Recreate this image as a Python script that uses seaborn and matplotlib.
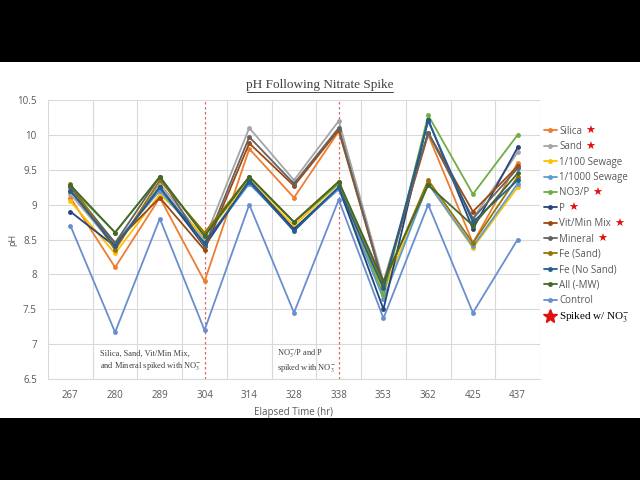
import pandas as pd
import matplotlib
matplotlib.use("Agg")
import matplotlib.pyplot as plt
from matplotlib.lines import Line2D
from matplotlib.patches import Rectangle
import seaborn as sns

# elapsed time points (categorical axis)
hours = ["267", "280", "289", "304", "314", "328", "338", "353", "362", "425", "437"]

silica = [9.10, 8.10, 9.10, 7.90, 9.80, 9.10, 10.05, 7.85, 10.00, 8.45, 9.60]
sand = [9.15, 8.40, 9.30, 8.50, 10.10, 9.35, 10.20, 7.90, 10.03, 8.80, 9.75]
sewage_100 = [9.05, 8.30, 9.15, 8.55, 9.35, 8.70, 9.30, 7.75, 9.30, 8.38, 9.25]
sewage_1000 = [9.20, 8.45, 9.20, 8.45, 9.30, 8.65, 9.22, 7.65, 9.30, 8.40, 9.30]
no3_p = [9.25, 8.60, 9.40, 8.55, 9.40, 8.75, 9.30, 7.70, 10.28, 9.15, 10.00]
p_only = [8.90, 8.40, 9.25, 8.40, 9.35, 8.65, 9.25, 7.50, 10.22, 8.65, 9.82]
vit_min = [9.20, 8.45, 9.10, 8.35, 9.88, 9.27, 10.07, 7.85, 10.03, 8.90, 9.55]
mineral = [9.25, 8.45, 9.40, 8.40, 9.97, 9.30, 10.10, 7.85, 10.03, 8.80, 9.52]
fe_sand = [9.30, 8.35, 9.35, 8.60, 9.40, 8.75, 9.33, 7.85, 9.35, 8.45, 9.40]
fe_nosand = [9.20, 8.40, 9.25, 8.45, 9.33, 8.62, 9.25, 7.80, 10.20, 8.75, 9.35]
all_mw = [9.28, 8.60, 9.40, 8.55, 9.40, 8.75, 9.33, 7.90, 9.28, 8.70, 9.45]
control = [8.70, 7.17, 8.80, 7.20, 9.00, 7.45, 9.07, 7.37, 9.00, 7.45, 8.50]

series_names = ["Silica", "Sand", "1/100 Sewage", "1/1000 Sewage", "NO3/P", "P",
                "Vit/Min Mix", "Mineral", "Fe (Sand)", "Fe (No Sand)", "All (-MW)", "Control"]
series_vals = [silica, sand, sewage_100, sewage_1000, no3_p, p_only,
               vit_min, mineral, fe_sand, fe_nosand, all_mw, control]
spiked = ["Silica", "Sand", "NO3/P", "P", "Vit/Min Mix", "Mineral"]

colors = ["#ED7D31", "#A5A5A5", "#FFC000", "#5B9BD5", "#70AD47", "#264478",
          "#9E480E", "#636363", "#997300", "#255E91", "#43682B", "#698ED0"]

rows = []
for name, vals in zip(series_names, series_vals):
    for i, v in enumerate(vals):
        rows.append({"idx": i, "pH": v, "Series": name})
df = pd.DataFrame(rows)

sns.set_style("white")
plt.rcParams["font.family"] = ["Open Sans", "DejaVu Sans"]
plt.rcParams["mathtext.fontset"] = "stix"

fig = plt.figure(figsize=(6.4, 4.8), dpi=100)
fig.patch.set_facecolor("black")
fig.add_artist(Rectangle((0, 62 / 480), 1, 356 / 480, transform=fig.transFigure,
                         facecolor="white", edgecolor="none", zorder=0))

ax = fig.add_axes([48 / 640, 101 / 480, 492 / 640, 279 / 480])
ax.set_facecolor("white")

palette = dict(zip(series_names, colors))
sns.lineplot(data=df, x="idx", y="pH", hue="Series", hue_order=series_names,
             palette=palette, marker="o", markersize=3.5, markeredgewidth=0,
             linewidth=1.3, sort=False, legend=False, ax=ax)

ax.set_xlim(-0.5, len(hours) - 0.5)
ax.set_ylim(6.5, 10.5)
ax.set_xticks(range(len(hours)))
ax.set_xticklabels(hours)
ax.set_xticks([i + 0.5 for i in range(-1, len(hours))], minor=True)
ax.set_yticks([6.5, 7, 7.5, 8, 8.5, 9, 9.5, 10, 10.5])
ax.set_yticklabels(["6.5", "7", "7.5", "8", "8.5", "9", "9.5", "10", "10.5"])
ax.grid(True, axis="y", color="#D9D9D9", linewidth=0.8)
ax.grid(True, axis="x", which="minor", color="#D9D9D9", linewidth=0.8)
ax.tick_params(axis="both", which="both", length=0, labelsize=7, colors="#595959", pad=8)
for s in ax.spines.values():
    s.set_visible(False)
ax.spines["bottom"].set_visible(True)
ax.spines["bottom"].set_color("#D9D9D9")
ax.set_xlabel("Elapsed Time (hr)", fontsize=7, color="#595959", labelpad=4)
ax.set_ylabel("pH", fontsize=6.5, color="#595959")
ax.yaxis.set_label_coords(-0.062, 0.5)

# spike markers
for xi in [3, 6]:
    ax.axvline(xi, color="#E06666", linestyle=(0, (2, 2)), linewidth=0.9, zorder=1)

serif = ["Liberation Serif", "DejaVu Serif"]
ax.text(0.67, 6.75, "Silica, Sand, Vit/Min Mix,\nand Mineral spiked with NO$_3^{-}$",
        ha="left", va="center", fontsize=6, family=serif, color="#404040", linespacing=1.3)
ax.text(4.63, 6.75, "NO$_3^{-}$/P and P\nspiked with NO$_3^{-}$",
        ha="left", va="center", fontsize=6, family=serif, color="#404040", linespacing=1.3)

fig.text(0.5, (480 - 85) / 480, "pH Following Nitrate Spike", ha="center", va="center",
         fontsize=9.5, family=serif, color="#404040")
fig.add_artist(Line2D([247 / 640, 393 / 640], [(480 - 92) / 480] * 2,
                      transform=fig.transFigure, color="#404040", linewidth=0.7))

handles = [Line2D([0], [0], color=c, marker="o", markersize=2.5, linewidth=1.3)
           for c in colors]
handles.append(Line2D([0], [0], color="#E01010", marker="*", markersize=10, linestyle="none"))
labels = series_names + ["Spiked w/ NO$_3^{-}$"]
leg = fig.legend(handles, labels, loc="upper left", bbox_to_anchor=(540 / 640, (480 - 122) / 480),
                 frameon=False, fontsize=7, handlelength=1.3, handletextpad=0.3,
                 labelspacing=0.45, borderaxespad=0)
for t in leg.get_texts():
    t.set_color("#595959")
leg.get_texts()[-1].set_family(serif)
leg.get_texts()[-1].set_fontsize(8)
leg.get_texts()[-1].set_color("black")

fig.canvas.draw()
renderer = fig.canvas.get_renderer()
inv = fig.transFigure.inverted()
for t in leg.get_texts()[:-1]:
    if t.get_text() in spiked:
        bb = t.get_window_extent(renderer)
        x0, y0 = inv.transform((bb.x1 + 3, (bb.y0 + bb.y1) / 2))
        fig.text(x0, y0, "\u2605", color="#E01010", fontsize=8, va="center", ha="left",
                 family=["DejaVu Sans"])

fig.savefig("out.png", dpi=100, facecolor=fig.get_facecolor())
